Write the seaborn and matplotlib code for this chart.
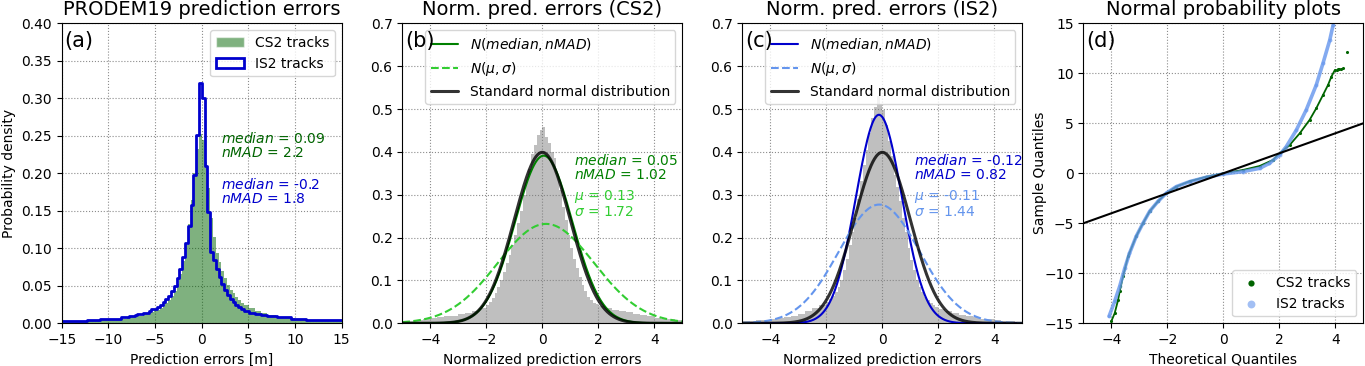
import numpy as np
import pandas as pd
import seaborn as sns
import matplotlib
matplotlib.use("Agg")
from matplotlib import pyplot as plt
from matplotlib.patches import Patch

# (a) prediction errors [m], density per bin
cs2_edges = [-15, -13, -11, -9.5, -8, -7, -6.3, -5.7, -5.1, -4.5,
             -4.2, -3.9, -3.6, -3.3, -3.0, -2.7, -2.4, -2.1, -1.8, -1.5,
             -1.2, -0.9, -0.6, -0.3, 0.0, 0.3, 0.6, 0.9, 1.2, 1.5,
             1.8, 2.1, 2.4, 2.7, 3.0, 3.3, 3.6, 3.9, 4.2, 4.5,
             5.1, 5.7, 6.3, 7.0, 8.0, 9.0, 10.0, 11.5, 13, 15]
cs2_dens = [0.0022, 0.003, 0.0044, 0.006, 0.008, 0.0098, 0.012, 0.015, 0.018,
            0.021, 0.024, 0.027, 0.031, 0.036, 0.043, 0.052, 0.066, 0.083, 0.105,
            0.132, 0.165, 0.200, 0.232, 0.252, 0.245, 0.215, 0.180, 0.140, 0.115,
            0.094, 0.082, 0.070, 0.060, 0.051, 0.045, 0.040, 0.035, 0.031, 0.027,
            0.024, 0.020, 0.017, 0.014, 0.011, 0.0085, 0.0065, 0.005, 0.0038, 0.003]

is2_edges = [-15, -12.3, -10.9, -8.7, -7.8, -7.2, -6.9, -6.3, -5.7, -5.4, -4.8, -4.5,
             -4.2, -3.9, -3.6, -3.3, -3.0, -2.7, -2.4, -2.1, -1.8, -1.5,
             -1.2, -0.9, -0.6, -0.3, 0.0, 0.3, 0.6, 0.9, 1.2, 1.5,
             1.8, 2.1, 2.4, 2.7, 3.0, 3.3, 3.6, 3.9, 4.2, 4.5,
             5.1, 5.7, 6.3, 7.0, 8.1, 9.6, 11.2, 15]
is2_dens = [0.003, 0.0044, 0.006, 0.008, 0.0098, 0.011, 0.013, 0.014, 0.016, 0.019, 0.022,
            0.025, 0.028, 0.032, 0.037, 0.043, 0.050, 0.060, 0.072, 0.088, 0.107,
            0.130, 0.158, 0.198, 0.251, 0.320, 0.300, 0.210, 0.149, 0.095, 0.085,
            0.073, 0.062, 0.052, 0.044, 0.038, 0.033, 0.029, 0.025, 0.022, 0.019,
            0.016, 0.014, 0.012, 0.011, 0.0098, 0.008, 0.006, 0.0044]

# (b), (c) normalized errors, same bins for both
norm_edges = [round(v, 2) for v in np.r_[np.linspace(-5, -2.25, 12), np.linspace(-2, 1.9, 40),
                                         np.linspace(2, 5, 13)]]
cs2_norm_dens = [0.005, 0.006, 0.008, 0.010, 0.012, 0.014, 0.016, 0.018, 0.021, 0.024, 0.028, 0.035,
                 0.043, 0.050, 0.058, 0.070, 0.085, 0.101, 0.120, 0.140, 0.160, 0.182,
                 0.205, 0.235, 0.262, 0.300, 0.330, 0.360, 0.395, 0.415, 0.440, 0.450,
                 0.457, 0.435, 0.420, 0.400, 0.385, 0.345, 0.310, 0.272, 0.240, 0.205,
                 0.175, 0.150, 0.128, 0.108, 0.090, 0.075, 0.062, 0.054, 0.048, 0.044,
                 0.040, 0.036, 0.032, 0.029, 0.026, 0.022, 0.019, 0.016, 0.013, 0.011, 0.009, 0.007]
is2_norm_dens = [0.005, 0.006, 0.007, 0.008, 0.010, 0.012, 0.015, 0.018, 0.022, 0.028, 0.035, 0.043,
                 0.050, 0.056, 0.064, 0.072, 0.084, 0.100, 0.124, 0.150, 0.182, 0.212,
                 0.245, 0.290, 0.333, 0.370, 0.405, 0.445, 0.480, 0.505, 0.530, 0.512,
                 0.498, 0.462, 0.425, 0.390, 0.345, 0.318, 0.285, 0.245, 0.212, 0.175,
                 0.148, 0.125, 0.102, 0.085, 0.072, 0.062, 0.055, 0.048, 0.042, 0.038,
                 0.033, 0.028, 0.024, 0.020, 0.017, 0.014, 0.011, 0.009, 0.007, 0.006, 0.005, 0.004]

# fitted parameters shown in the panels
cs2_med, cs2_nmad, cs2_mu, cs2_sigma = 0.05, 1.02, 0.13, 1.72
is2_med, is2_nmad, is2_mu, is2_sigma = -0.12, 0.82, -0.11, 1.44

# (d) normal probability plot, (theoretical, sample) quantiles
cs2_qq_x = [-4.0, -3.88, -3.76, -3.70, -3.58, -3.40, -3.11, -2.87, -2.63, -2.33, -2.04,
            -1.68, -1.2, -0.61, 0.0, 0.7, 1.3, 1.77, 2.01, 2.37, 2.73, 3.08, 3.32, 3.56,
            3.74, 3.86, 3.98]
cs2_qq_y = [-14.8, -14.0, -12.7, -11.8, -10.3, -8.3, -6.3, -5.0, -3.8, -2.8, -2.0,
            -1.33, -0.8, -0.35, 0.0, 0.33, 0.73, 1.33, 2.0, 2.83, 4.0, 5.33, 6.5, 7.83,
            8.83, 9.67, 10.3]
# isolated extreme CS2 points
cs2_out_x = [4.05, 4.1, 4.15, 4.2, 4.27, 4.43]
cs2_out_y = [10.35, 10.4, 10.4, 10.45, 10.5, 12.1]
is2_qq_x = [-4.08, -3.88, -3.70, -3.52, -3.35, -3.11, -2.87, -2.63, -2.33, -2.04, -1.68,
            -1.2, -0.61, 0.0, 0.7, 1.3, 1.65, 2.01, 2.25, 2.61, 2.96, 3.32, 3.56, 3.80, 3.92]
is2_qq_y = [-14.3, -12.8, -11.3, -9.5, -8.0, -6.3, -5.0, -3.8, -2.8, -2.0, -1.33,
            -0.83, -0.4, -0.07, 0.17, 0.5, 1.0, 1.83, 2.67, 4.33, 6.33, 8.83, 11.0, 13.3, 14.8]

sns.set_style("whitegrid", {"grid.linestyle": ":", "grid.color": "0.55",
                            "axes.edgecolor": "black", "axes.labelcolor": "black",
                            "text.color": "black", "xtick.color": "black", "ytick.color": "black",
                            "xtick.bottom": True, "ytick.left": True})
plt.rcParams["font.family"] = ["DejaVu Sans"]
plt.rcParams["font.size"] = 10

W, H = 1365, 366
fig = plt.figure(figsize=(W / 100, H / 100), dpi=100)
lefts = [61.7, 402.3, 742.3, 1083.3]
axs = [fig.add_axes([l / W, 42.7 / H, 280 / W, 300 / H]) for l in lefts]
for ax in axs:
    ax.grid(True, linestyle=":", color="0.55", linewidth=0.8)
    ax.tick_params(labelsize=10, length=3.5, width=0.8)
    for s in ax.spines.values():
        s.set_linewidth(0.8)


def centers(edges):
    e = np.asarray(edges, dtype=float)
    return (e[:-1] + e[1:]) / 2


# (a)
ax = axs[0]
sns.histplot(x=centers(cs2_edges), weights=cs2_dens, bins=cs2_edges, stat="count",
             element="step", color="darkgreen", alpha=0.5, linewidth=0, ax=ax)
sns.histplot(x=centers(is2_edges), weights=is2_dens, bins=is2_edges, stat="count",
             element="step", fill=False, color="mediumblue", linewidth=2, ax=ax)
ax.set_xlim(-15, 15)
ax.set_ylim(0, 0.4)
ax.set_xticks([-15, -10, -5, 0, 5, 10, 15])
ax.set_yticks(np.arange(0, 0.401, 0.05))
ax.set_yticklabels([f"{v:.2f}" for v in np.arange(0, 0.401, 0.05)])
ax.set_xlabel("Prediction errors [m]")
ax.set_ylabel("Probability density")
ax.set_title("PRODEM19 prediction errors", fontsize=14)
ax.text(2.1, 0.256, "$median$ = 0.09\n$nMAD$ = 2.2", color="darkgreen", fontsize=10,
        va="top", linespacing=1.0)
ax.text(2.1, 0.195, "$median$ = -0.2\n$nMAD$ = 1.8", color="mediumblue", fontsize=10,
        va="top", linespacing=1.0)
ax.legend(handles=[Patch(facecolor="darkgreen", alpha=0.5, label="CS2 tracks"),
                   Patch(facecolor="none", edgecolor="mediumblue", linewidth=2, label="IS2 tracks")],
          loc="upper right", fontsize=10)

# (b), (c)
xs = np.linspace(-5, 5, 501)


def npdf(x, m, s):
    return np.exp(-0.5 * ((x - m) / s) ** 2) / (s * np.sqrt(2 * np.pi))


panels = [
    (axs[1], cs2_norm_dens, "green", "limegreen", cs2_med, cs2_nmad, cs2_mu, cs2_sigma,
     "Norm. pred. errors (CS2)", "(b)"),
    (axs[2], is2_norm_dens, "mediumblue", "cornflowerblue", is2_med, is2_nmad, is2_mu, is2_sigma,
     "Norm. pred. errors (IS2)", "(c)"),
]
for ax, dens, c1, c2, med, nmad, mu, sig, title, tag in panels:
    sns.histplot(x=centers(norm_edges), weights=dens, bins=norm_edges, stat="count",
                 element="step", color="gray", alpha=0.5, linewidth=0, ax=ax)
    sns.lineplot(x=xs, y=npdf(xs, med, nmad), color=c1, linewidth=1.5,
                 label="$N(median, nMAD)$", ax=ax)
    sns.lineplot(x=xs, y=npdf(xs, mu, sig), color=c2, linewidth=1.5, linestyle="--",
                 label=r"$N(\mu, \sigma)$", ax=ax)
    sns.lineplot(x=xs, y=npdf(xs, 0, 1), color="black", alpha=0.8, linewidth=2.2,
                 label="Standard normal distribution", ax=ax)
    ax.set_xlim(-5, 5)
    ax.set_ylim(0, 0.7)
    ax.set_xticks([-4, -2, 0, 2, 4])
    ax.set_yticks(np.arange(0, 0.701, 0.1))
    ax.set_yticklabels([f"{v:.1f}" for v in np.arange(0, 0.701, 0.1)])
    ax.set_xlabel("Normalized prediction errors")
    ax.set_ylabel("")
    ax.set_title(title, fontsize=14)
    ax.text(1.15, 0.398, f"$median$ = {med}\n$nMAD$ = {nmad}", color=c1, fontsize=10,
            va="top", linespacing=1.0)
    ax.text(1.15, 0.316, f"$\\mu$ = {mu}\n$\\sigma$ = {sig}", color=c2, fontsize=10,
            va="top", linespacing=1.0)
    ax.legend(loc="upper right", fontsize=10)
    ax.text(0.01, 0.975, tag, transform=ax.transAxes, fontsize=15, va="top", ha="left",
            zorder=10)

axs[0].text(0.01, 0.975, "(a)", transform=axs[0].transAxes, fontsize=15, va="top", ha="left")

# (d)
ax = axs[3]
sns.lineplot(x=cs2_qq_x, y=cs2_qq_y, sort=False, color="darkgreen", linewidth=1.3, ax=ax)
sns.lineplot(x=is2_qq_x, y=is2_qq_y, sort=False, color="cornflowerblue", alpha=0.8,
             linewidth=2.6, ax=ax)
sns.scatterplot(x=cs2_qq_x + cs2_out_x, y=cs2_qq_y + cs2_out_y, color="darkgreen", s=5,
                linewidth=0, label="CS2 tracks", ax=ax)
sns.scatterplot(x=is2_qq_x, y=is2_qq_y, color="cornflowerblue", alpha=0.6, s=8, linewidth=0,
                label="IS2 tracks", ax=ax)
ax.axline((0, 0), slope=1, color="black", linewidth=1.5)
ax.set_xlim(-5, 5)
ax.set_ylim(-15, 15)
ax.set_xticks([-4, -2, 0, 2, 4])
ax.set_yticks([-15, -10, -5, 0, 5, 10, 15])
ax.set_xlabel("Theoretical Quantiles")
ax.set_ylabel("Sample Quantiles")
ax.yaxis.set_label_coords(-0.13, 0.5)
ax.set_title("Normal probability plots", fontsize=14)
ax.legend(loc="lower right", fontsize=10, markerscale=2)
ax.text(0.01, 0.975, "(d)", transform=ax.transAxes, fontsize=15, va="top", ha="left")

fig.savefig("out.png", dpi=100)
